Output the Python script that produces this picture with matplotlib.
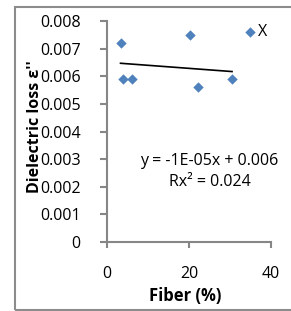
import matplotlib
matplotlib.use("Agg")
import matplotlib.pyplot as plt
from matplotlib.patches import Rectangle

fiber = [3.4, 3.8, 6.2, 20.2, 22.2, 30.4, 34.8]
loss = [0.0072, 0.0059, 0.0059, 0.0075, 0.0056, 0.0059, 0.0076]
point_labels = ["", "", "", "", "", "", "X"]
trend_x = [3.3, 30.5]
trend_y = [0.00647, 0.00617]
xticks = [0, 20, 40]
yticks = [0, 0.001, 0.002, 0.003, 0.004, 0.005, 0.006, 0.007, 0.008]
ytick_labels = ["0", "0.001", "0.002", "0.003", "0.004", "0.005", "0.006", "0.007", "0.008"]
eq_text = "y = -1E-05x + 0.006"
r2_text = "Rx² = 0.024"

plt.rcParams['font.family'] = ['Open Sans', 'DejaVu Sans']
W, H = 291, 311
fig = plt.figure(figsize=(W/100, H/100), dpi=100)

# outer chart border
fig.add_artist(Rectangle((15/W, 1 - 310/H), 1.2, (310 - 7)/H,
                         transform=fig.transFigure, fill=False,
                         edgecolor='#8c8c8c', linewidth=1.5))

ax = fig.add_axes([107/W, 1 - 242/H, (271 - 107)/W, (242 - 21)/H])
ax.plot(trend_x, trend_y, color='black', linewidth=1.2, zorder=2)
ax.scatter(fiber, loss, marker='D', s=28, color='#4F81BD', zorder=3, linewidths=0)
for x, y, t in zip(fiber, loss, point_labels):
    if t:
        ax.annotate(t, (x, y), xytext=(6, 0), textcoords='offset points',
                    va='center', ha='left', fontsize=11.5)

ax.set_xlim(0, 40)
ax.set_ylim(0, 0.008)
ax.set_xticks(xticks)
ax.set_xticklabels([str(v) for v in xticks])
ax.set_yticks(yticks)
ax.set_yticklabels(ytick_labels)
for s in ['top', 'right']:
    ax.spines[s].set_visible(False)
for s in ['left', 'bottom']:
    ax.spines[s].set_color('#868686')
    ax.spines[s].set_linewidth(1.5)
ax.tick_params(axis='y', direction='out', length=5, width=1.5, color='#868686',
               labelsize=11.5, pad=14)
ax.tick_params(axis='x', direction='out', length=4, width=1.5, color='#868686',
               labelsize=11.5, pad=13)
ax.set_xlabel("Fiber (%)", fontsize=12, fontweight='bold')
ax.xaxis.set_label_coords(185/W, 1 - 296/H, transform=fig.transFigure)
ax.xaxis.label.set_va('center')
ax.set_ylabel("Dielectric loss ε''", fontsize=11.5, fontweight='bold')
ax.yaxis.set_label_coords(35/W, 1 - 127/H, transform=fig.transFigure)
ax.yaxis.label.set_va('center')
ax.text(209/W, 1 - 161/H, eq_text, transform=fig.transFigure, ha='center', va='center', fontsize=11.5)
ax.text(210/W, 1 - 182/H, r2_text, transform=fig.transFigure, ha='center', va='center', fontsize=11.5)

fig.savefig("out.png", dpi=100)
